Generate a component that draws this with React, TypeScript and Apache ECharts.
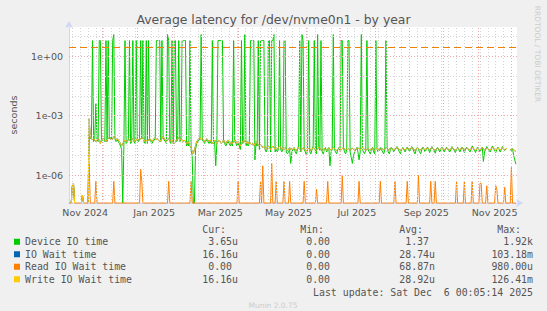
import React, { useEffect, useRef } from "react";
import * as echarts from "echarts";

// ---- axis ranges (log10 of seconds) ----
const Y_MIN = -7.39;
const Y_MAX = 1.46;
const DAYS = 400; // Nov 1 2024 .. Dec 6 2025

// ---- tick labels / grid positions (in days from Nov 1 2024) ----
const monthLabels = ["Nov 2024", "Jan 2025", "Mar 2025", "May 2025", "Jul 2025", "Sep 2025", "Nov 2025"];
const monthLabelDays = [14.5, 76, 135, 196, 257, 319, 380];
const monthStartDays = [30, 61, 92, 120, 151, 181, 212, 242, 273, 304, 334, 365, 395];
const firstMondayDay = 3;
const decadeLines = [-7, -6, -5, -4, -3, -2, -1, 0, 1];
const labelledDecades = [-6, -3, 0];
const warningLevel = 2.75;

// ---- series (seconds, one value per day) ----
const deviceIoTime = [
  null, null, 0, 3e-7, 4e-7, 0, null, null, null, null,
  null, 0, 1e-7, 0, null, null, null, 0, 1e-4, 7e-5,
  8e-5, 6, 5e-5, 7e-5, 4e-3, 6e-5, 5e-5, 6, 6, 5e-5,
  6e-5, 7e-5, 5e-5, 6, 5e-5, 6, 7e-5, 8e-5, 6e-5, 6,
  12, 7e-5, 5e-5, 6e-5, 5e-5, 4e-5, 3e-5, 2e-5, 0, 3e-5,
  6, 4e-5, 5e-5, 6e-5, 6, 4e-5, 5e-5, 6, 5e-5, 4e-5,
  6, 6e-5, 5e-5, 7e-5, 6, 7e-5, 6, 5e-5, 4e-5, 6,
  4e-5, 6, 6e-5, 5e-5, 4e-5, 5e-5, 6e-5, 7e-5, 6, 6,
  6, 6, 5e-5, 6, 8e-5, 6e-5, 5e-5, 4e-5, 12, 6,
  5e-5, 4e-5, 6, 4e-5, 6, 6, 5e-5, 6e-5, 6, 5e-5,
  6e-5, 6, 6, 6, 6, 3e-5, 4e-5, 3e-5, 6, 2e-5,
  1e-5, 0, 0, 2e-5, 4e-5, 5e-5, 6e-5, 7e-5, 12, 6e-5,
  5e-5, 4e-5, 5e-5, 6e-5, 5e-5, 4e-5, 5e-5, 4e-5, 6, 4e-5,
  5e-5, 3e-6, 4e-5, 6, 6, 6, 6, 6, 5e-5, 4e-5,
  3e-5, 4e-5, 5e-5, 4e-5, 3e-5, 4e-5, 3e-5, 6, 5e-5, 4e-5,
  3e-5, 4e-5, 3e-5, 2e-5, 6, 4e-5, 5e-5, 12, 3e-5, 4e-5,
  3e-5, 4e-5, 6, 6, 6, 6, 6e-6, 4e-5, 3e-5, 6,
  2e-5, 6, 6, 6, 6, 2e-5, 1.5e-5, 2e-5, 6, 6,
  1.5e-5, 6, 6, 12, 1.5e-5, 2e-5, 1.5e-5, 2e-5, 6, 2e-5,
  1.5e-5, 2e-5, 6, 6, 1.5e-5, 1.2e-5, 1.5e-5, 2e-5, 4e-6, 1.5e-5,
  2e-5, 2.5e-5, 1.5e-5, 1.2e-5, 2e-5, 3e-5, 6, 1.5e-5, 12, 6,
  2e-5, 1.5e-5, 1e-5, 2e-5, 6, 1.5e-5, 1.2e-5, 2e-5, 3e-5, 6,
  1.5e-5, 1.2e-5, 12, 2.5e-5, 1.8e-5, 6, 1.5e-5, 1.2e-5, 2e-5, 2.5e-5,
  1.5e-5, 2e-5, 2.5e-5, 3e-6, 1.5e-5, 2e-5, 12, 2e-5, 1.5e-5, 1.2e-5,
  2e-5, 2.5e-5, 1.8e-5, 6, 6, 2.5e-5, 1.5e-5, 1.2e-5, 2e-5, 6,
  6, 1.5e-5, 8e-6, 4e-6, 1e-5, 1.5e-5, 2e-5, 2.5e-5, 1.5e-5, 6e-6,
  1.5e-5, 12, 2e-5, 1.5e-5, 1.2e-5, 2e-5, 6, 2e-5, 1.5e-5, 1.2e-5,
  2e-5, 2.5e-5, 1.5e-5, 1.2e-5, 6, 2e-5, 1.5e-5, 1.8e-5, 2.5e-5, 2e-5,
  1.5e-5, 1.2e-5, 2e-5, 6, 2.5e-5, 1.5e-5, 1.2e-5, 2e-5, 2.5e-5, 2e-5,
  1.5e-5, 2e-5, 2.5e-5, 2.8e-5, 2e-5, 1.5e-5, 1.2e-5, 2e-5, 2.5e-5, 2e-5,
  1.5e-5, 2e-5, 2.6e-5, 2e-5, 1.6e-5, 2e-5, 2.8e-5, 2.2e-5, 1.5e-5, 1.2e-5,
  2e-5, 2.5e-5, 2e-5, 1.5e-5, 1.2e-5, 2e-5, 2.6e-5, 2e-5, 1.5e-5, 2e-5,
  2.6e-5, 2e-5, 1.4e-5, 2e-5, 2.8e-5, 2.2e-5, 1.8e-5, 1.3e-5, 2e-5, 2.5e-5,
  2e-5, 1.5e-5, 2e-5, 2.6e-5, 2e-5, 1.5e-5, 2e-5, 2.6e-5, 2.2e-5, 1.8e-5,
  1.5e-5, 2e-5, 2.8e-5, 2.2e-5, 1.8e-5, 1.4e-5, 2e-5, 2.6e-5, 2e-5, 1.5e-5,
  2e-5, 2.6e-5, 2e-5, 1.4e-5, 2e-5, 2.6e-5, 2.2e-5, 1.8e-5, 1.5e-5, 2e-5,
  3e-5, 2.4e-5, 1.8e-5, 1.4e-5, 2e-5, 2.6e-5, 2e-5, 1.5e-5, 2e-5, 2.6e-5,
  5e-6, 1.5e-5, 2e-5, 2.8e-5, 2.2e-5, 1.8e-5, 1.5e-5, 2e-5, 3e-5, 2.4e-5,
  1.8e-5, 1.4e-5, 2e-5, 2.6e-5, 2e-5, 1.5e-5, 2e-5, 2.8e-5, 2.2e-5, 1.8e-5,
  2e-5, 2.4e-5, null, null, 2e-5, 1.8e-5, 2.2e-5, 1e-5, 6e-6, 3.65e-6,
];

const writeIoWaitTime = [
  null, null, 0, 3e-7, 4e-7, 0, null, null, null, null,
  null, 0, 1e-7, 0, null, null, null, 0, 7e-4, 9e-5,
  7e-5, 6e-5, 7e-5, 6e-5, 5e-5, 6e-5, 7e-5, 6e-5, 4e-5, 6e-5,
  7e-5, 6e-5, 6e-5, 5e-5, 6e-5, 7e-5, 8e-5, 7e-5, 6e-5, 7e-5,
  9e-5, 8e-5, 6e-5, 7e-5, 6e-5, 5e-5, 4e-5, 3e-5, 4e-5, 5e-5,
  6e-5, 5e-5, 6e-5, 7e-5, 6e-5, 5e-5, 6e-5, 7e-5, 6e-5, 5e-5,
  6e-5, 7e-5, 6e-5, 6e-5, 7e-5, 8e-5, 7e-5, 6e-5, 5e-5, 6e-5,
  5e-5, 6e-5, 7e-5, 6e-5, 5e-5, 6e-5, 7e-5, 8e-5, 6e-5, 7e-5,
  6e-5, 5e-5, 6e-5, 7e-5, 9e-5, 7e-5, 6e-5, 5e-5, 6e-5, 7e-5,
  6e-5, 5e-5, 6e-5, 5e-5, 4e-5, 5e-5, 6e-5, 7e-5, 8e-5, 6e-5,
  7e-5, 6e-5, 5e-5, 6e-5, 5e-5, 4e-5, 5e-5, 4e-5, 3e-5, 2.5e-5,
  1.5e-5, 1.2e-5, 2e-5, 3e-5, 5e-5, 6e-5, 7e-5, 8e-5, 6e-5, 7e-5,
  6e-5, 5e-5, 6e-5, 7e-5, 6e-5, 5e-5, 6e-5, 5e-5, 4e-5, 5e-5,
  6e-5, 5e-5, 4e-5, 5e-5, 6e-5, 5e-5, 4e-5, 5e-5, 6e-5, 5e-5,
  4e-5, 5e-5, 6e-5, 5e-5, 4e-5, 5e-5, 4e-5, 5e-5, 6e-5, 5e-5,
  4e-5, 5e-5, 4e-5, 3e-5, 4e-5, 5e-5, 6e-5, 5e-5, 4e-5, 5e-5,
  4e-5, 5e-5, 4e-5, 3.5e-5, 4e-5, 3e-5, 4e-5, 5e-5, 4e-5, 3.5e-5,
  3e-5, 3.5e-5, 3e-5, 2.5e-5, 3e-5, 2.5e-5, 2e-5, 2.5e-5, 3e-5, 2.5e-5,
  2e-5, 2.5e-5, 3e-5, 2.5e-5, 2e-5, 2.5e-5, 2e-5, 2.5e-5, 3e-5, 2.5e-5,
  2e-5, 2.5e-5, 2e-5, 2.5e-5, 2e-5, 1.8e-5, 2e-5, 2.5e-5, 2e-5, 2.2e-5,
  2e-5, 2.4e-5, 2e-5, 1.8e-5, 2.2e-5, 2.6e-5, 2e-5, 1.8e-5, 2e-5, 2.4e-5,
  2.2e-5, 2e-5, 1.7e-5, 2e-5, 2.3e-5, 2e-5, 1.8e-5, 2.1e-5, 2.5e-5, 2.2e-5,
  2e-5, 1.8e-5, 2.2e-5, 2.6e-5, 2.2e-5, 2e-5, 1.8e-5, 2e-5, 2.3e-5, 2e-5,
  1.8e-5, 2.1e-5, 2.4e-5, 2e-5, 1.9e-5, 2.2e-5, 2.6e-5, 2.2e-5, 2e-5, 1.8e-5,
  2e-5, 2.3e-5, 2.1e-5, 1.9e-5, 2.2e-5, 2.5e-5, 2.1e-5, 1.9e-5, 2e-5, 2.3e-5,
  2e-5, 1.8e-5, 2.1e-5, 2.4e-5, 2e-5, 1.8e-5, 2e-5, 2.2e-5, 2.5e-5, 2.1e-5,
  1.9e-5, 2.2e-5, 2.6e-5, 2.2e-5, 2e-5, 1.8e-5, 2e-5, 2.3e-5, 2e-5, 1.9e-5,
  2.2e-5, 2.4e-5, 2e-5, 1.8e-5, 2.1e-5, 2.4e-5, 2.1e-5, 1.9e-5, 2e-5, 2.3e-5,
  2.1e-5, 1.9e-5, 2.2e-5, 2.5e-5, 2.1e-5, 1.9e-5, 2e-5, 2.4e-5, 2.2e-5, 2e-5,
  1.8e-5, 2e-5, 2.3e-5, 2.6e-5, 2.2e-5, 2e-5, 1.8e-5, 2.1e-5, 2.4e-5, 2e-5,
  1.9e-5, 2.2e-5, 2.5e-5, 2.1e-5, 1.9e-5, 2.2e-5, 2.6e-5, 2.2e-5, 2e-5, 1.8e-5,
  2.1e-5, 2.4e-5, 2.2e-5, 2e-5, 1.9e-5, 2.2e-5, 2.5e-5, 2.1e-5, 1.9e-5, 2.1e-5,
  2.4e-5, 2.1e-5, 1.9e-5, 2.2e-5, 2.6e-5, 2.2e-5, 2e-5, 1.8e-5, 2e-5, 2.3e-5,
  2.1e-5, 1.9e-5, 2.2e-5, 2.5e-5, 2.1e-5, 1.9e-5, 2.1e-5, 2.4e-5, 2.2e-5, 2e-5,
  1.9e-5, 2.2e-5, 2.6e-5, 2.2e-5, 2e-5, 1.8e-5, 2.1e-5, 2.4e-5, 2.1e-5, 1.9e-5,
  2.2e-5, 2.5e-5, 2.1e-5, 1.9e-5, 2.1e-5, 2.4e-5, 2.2e-5, 2e-5, 1.9e-5, 2.2e-5,
  2.6e-5, 2.2e-5, 2e-5, 1.8e-5, 2.1e-5, 2.4e-5, 2.1e-5, 1.9e-5, 2.2e-5, 2.5e-5,
  2.1e-5, 1.9e-5, 2.1e-5, 2.4e-5, 2.2e-5, 2e-5, 1.9e-5, 2.2e-5, 2.6e-5, 2.2e-5,
  2e-5, 1.8e-5, 2.1e-5, 2.4e-5, 2.1e-5, 1.9e-5, 2.2e-5, 2.5e-5, 2.1e-5, 1.9e-5,
  2.1e-5, 2.3e-5, null, null, 2e-5, 1.8e-5, 2.1e-5, 2e-5, 1.7e-5, 1.6e-5,
];

// IO wait is indistinguishable from write IO wait in the picture
const ioWaitTime = writeIoWaitTime;

// read IO wait: zero except on these days
const readIoDays = [3, 4, 12, 18, 24, 40, 64, 65, 89, 109, 151, 171, 173, 181, 185, 192, 197, 210, 221, 231, 244, 259, 278, 291, 302, 312, 323, 327, 346, 353, 360, 367, 368, 373, 381, 382, 389, 395];
const readIoValues = [3e-7, 4e-7, 1e-7, 4e-6, 5e-7, 5e-7, 2e-6, 5e-7, 5e-7, 5e-7, 5e-7, 5e-7, 3e-6, 4e-6, 5e-7, 5e-7, 5e-7, 5e-7, 2e-7, 5e-7, 1e-6, 5e-7, 5e-7, 5e-7, 5e-7, 1e-6, 5e-7, 5e-7, 5e-7, 5e-7, 5e-7, 4e-7, 4e-7, 3e-7, 3e-7, 2e-7, 2.5e-7, 2.5e-6];

// ---- legend table ----
const seriesNames = ["Device IO time", "IO Wait time", "Read IO Wait time", "Write IO Wait time"];
const seriesColors = ["#00CC00", "#0066B3", "#FF8000", "#FFCC00"];
const columnHeaders = ["Cur:", "Min:", "Avg:", "Max:"];
const curValues = ["3.65u", "16.16u", "0.00", "16.16u"];
const minValues = ["0.00", "0.00", "0.00", "0.00"];
const avgValues = ["1.37", "28.74u", "68.87n", "28.92u"];
const maxValues = ["1.92k", "103.18m", "980.00u", "126.41m"];
const lastUpdate = "Last update: Sat Dec \u00a06 00:05:14 2025";

const FONT = "DejaVu Sans";
const MONO = "DejaVu Sans Mono";
const TEXT = "#555555";

const toY = (v: number | null) => (v === null ? null : v > 0 ? Math.log10(v) : Y_MIN);

export default function App() {
  const ref = useRef<HTMLDivElement>(null);
  useEffect(() => {
    if (!ref.current) return;
    const chart = echarts.init(ref.current, null, { renderer: "svg" });

    const readIoWaitTime: number[] = Array.from({ length: DAYS }, () => 0);
    readIoDays.forEach((d, k) => (readIoWaitTime[d] = readIoValues[k]));

    const gray = { color: "#d4d4d4", type: [1, 2], width: 1 };
    const red = { color: "#eeaaaa", type: [1, 2], width: 1 };
    const gridLines: any[] = [];
    for (let d = firstMondayDay; d < DAYS; d += 7) {
      if (!monthStartDays.includes(d)) gridLines.push({ xAxis: d, lineStyle: gray });
    }
    monthStartDays.forEach((d) => gridLines.push({ xAxis: d, lineStyle: red }));
    decadeLines.forEach((e) =>
      gridLines.push({ yAxis: e, lineStyle: labelledDecades.includes(e) ? red : gray })
    );
    gridLines.push({
      yAxis: Math.log10(warningLevel),
      lineStyle: { color: "#F08000", type: [7, 4], width: 1 },
    });

    const seriesData = [deviceIoTime, ioWaitTime, readIoWaitTime, writeIoWaitTime];

    const cols = [curValues, minValues, avgValues, maxValues];
    const colRight = [238, 336, 435, 533];
    const rowY = [241.8, 254.3, 266.9, 279.4];
    const CH = 6.0;
    const graphics: any[] = [];
    columnHeaders.forEach((h, c) =>
      graphics.push({
        type: "text", x: colRight[c] - 2 * CH, y: 229.9,
        style: { text: h, fill: TEXT, font: `9.9px '${MONO}'`, textAlign: "right", textVerticalAlign: "middle" },
      })
    );
    cols.forEach((col, c) =>
      col.forEach((t, r) =>
        graphics.push({
          type: "text",
          x: colRight[c] - (/[a-zA-Z]$/.test(t) ? 0 : CH),
          y: rowY[r],
          style: { text: t, fill: TEXT, font: `9.9px '${MONO}'`, textAlign: "right", textVerticalAlign: "middle" },
        })
      )
    );
    graphics.push({
      type: "text", x: 533, y: 292,
      style: { text: lastUpdate, fill: TEXT, font: `9.9px '${MONO}'`, textAlign: "right", textVerticalAlign: "middle" },
    });
    graphics.push({
      type: "text", x: 537.5, y: 54, rotation: -Math.PI / 2,
      style: { text: "RRDTOOL / TOBI OETIKER", fill: "#cccccc", font: `7.5px '${FONT}'`, textAlign: "center", textVerticalAlign: "middle" },
    });
    graphics.push({
      type: "text", x: 273, y: 305,
      style: { text: "Munin 2.0.75", fill: "#cccccc", font: `7.5px '${FONT}'`, textAlign: "center", textVerticalAlign: "middle" },
    });

    chart.setOption({
      animation: false,
      backgroundColor: "#F0F0F0",
      title: {
        text: "Average latency for /dev/nvme0n1 - by year",
        left: "center",
        top: 13.5,
        padding: 0,
        textStyle: { fontFamily: FONT, fontSize: 12.4, fontWeight: "normal", color: TEXT },
      },
      grid: {
        left: 67, top: 27, width: 450, height: 176,
        show: true, backgroundColor: "#ffffff", borderWidth: 0,
      },
      legend: {
        data: seriesNames,
        orient: "vertical",
        left: 14,
        top: 235.5,
        padding: 0,
        itemGap: 0,
        itemWidth: 6,
        itemHeight: 6,
        icon: "rect",
        selectedMode: false,
        textStyle: { fontFamily: MONO, fontSize: 9.9, color: TEXT, lineHeight: 12.5 },
      },
      xAxis: {
        type: "value",
        min: 0,
        max: DAYS,
        axisLine: {
          show: true,
          onZero: false,
          lineStyle: { color: "#CFD6F8", width: 1 },
          symbol: ["none", "arrow"],
          symbolSize: [6, 7],
          symbolOffset: [0, 6],
        },
        axisTick: { show: false },
        splitLine: { show: false },
        axisLabel: {
          customValues: monthLabelDays,
          formatter: (v: number) => monthLabels[monthLabelDays.indexOf(v)] ?? "",
          fontFamily: FONT,
          fontSize: 9.5,
          color: TEXT,
          margin: 4,
        },
      },
      yAxis: {
        type: "value",
        min: Y_MIN,
        max: Y_MAX,
        name: "seconds",
        nameLocation: "middle",
        nameRotate: 90,
        nameGap: 51,
        nameTextStyle: { fontFamily: FONT, fontSize: 9.5, color: TEXT },
        axisLine: {
          show: true,
          onZero: false,
          lineStyle: { color: "#CFD6F8", width: 1 },
          symbol: ["none", "arrow"],
          symbolSize: [6, 7],
          symbolOffset: [0, 6],
        },
        axisTick: { show: false },
        splitLine: { show: false },
        axisLabel: {
          customValues: labelledDecades,
          formatter: (v: number) =>
            "1e" + (v < 0 ? "-" : "+") + String(Math.abs(Math.round(v))).padStart(2, "0"),
          fontFamily: FONT,
          fontSize: 9.5,
          color: TEXT,
          margin: 6,
        },
      },
      series: [
        {
          name: "grid",
          type: "line",
          data: [[0, Y_MIN]],
          symbol: "none",
          lineStyle: { width: 0 },
          silent: true,
          z: 1,
          markLine: {
            silent: true,
            symbol: ["none", "none"],
            label: { show: false },
            emphasis: { disabled: true },
            animation: false,
            data: gridLines,
          },
        },
        ...seriesData.map((arr, k) => ({
          name: seriesNames[k],
          type: "line",
          data: (arr as (number | null)[]).map((v, i) => [i, toY(v)]),
          symbol: "none",
          showSymbol: false,
          connectNulls: false,
          clip: false,
          z: 2,
          lineStyle: { width: 1, color: seriesColors[k] },
          itemStyle: { color: seriesColors[k] },
          emphasis: { disabled: true },
          silent: true,
        })),
      ],
      graphic: graphics,
    });
    return () => chart.dispose();
  }, []);
  return (
    <div
      ref={ref}
      style={{ position: "fixed", left: 0, top: 0, width: 547, height: 311 }}
    />
  );
}
